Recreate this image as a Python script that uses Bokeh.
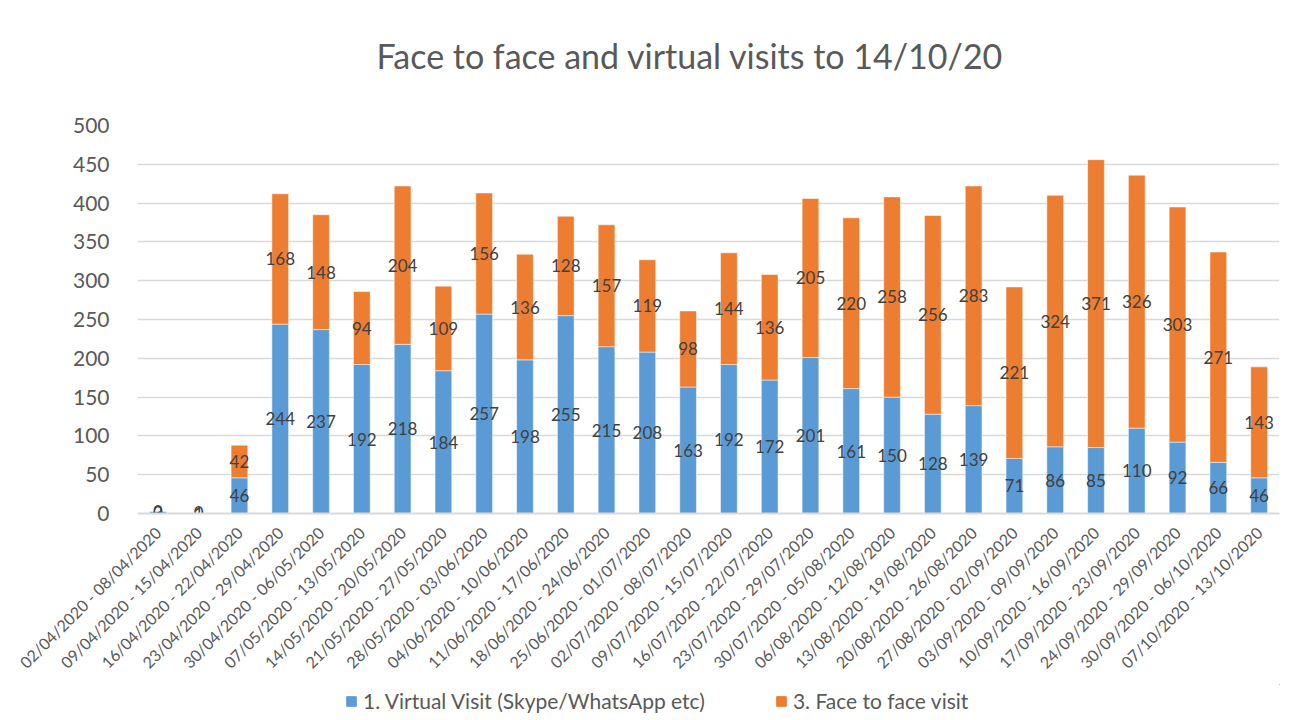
import math
from bokeh.plotting import figure
from bokeh.layouts import column
from bokeh.models import ColumnDataSource, FactorRange, Legend, LegendItem
from bokeh.core.properties import value
from bokeh.embed import file_html
from bokeh.resources import INLINE

weeks = [
    "02/04/2020 - 08/04/2020", "09/04/2020 - 15/04/2020", "16/04/2020 - 22/04/2020",
    "23/04/2020 - 29/04/2020", "30/04/2020 - 06/05/2020", "07/05/2020 - 13/05/2020",
    "14/05/2020 - 20/05/2020", "21/05/2020 - 27/05/2020", "28/05/2020 - 03/06/2020",
    "04/06/2020 - 10/06/2020", "11/06/2020 - 17/06/2020", "18/06/2020 - 24/06/2020",
    "25/06/2020 - 01/07/2020", "02/07/2020 - 08/07/2020", "09/07/2020 - 15/07/2020",
    "16/07/2020 - 22/07/2020", "23/07/2020 - 29/07/2020", "30/07/2020 - 05/08/2020",
    "06/08/2020 - 12/08/2020", "13/08/2020 - 19/08/2020", "20/08/2020 - 26/08/2020",
    "27/08/2020 - 02/09/2020", "03/09/2020 - 09/09/2020", "10/09/2020 - 16/09/2020",
    "17/09/2020 - 23/09/2020", "24/09/2020 - 29/09/2020", "30/09/2020 - 06/10/2020",
    "07/10/2020 - 13/10/2020",
]
virtual = [3, 1, 46, 244, 237, 192, 218, 184, 257, 198, 255, 215, 208, 163,
           192, 172, 201, 161, 150, 128, 139, 71, 86, 85, 110, 92, 66, 46]
face = [0, 0, 42, 168, 148, 94, 204, 109, 156, 136, 128, 157, 119, 98,
        144, 136, 205, 220, 258, 256, 283, 221, 324, 371, 326, 303, 271, 143]

title_text = "Face to face and virtual visits to 14/10/20"
series_names = ["1. Virtual Visit (Skype/WhatsApp etc)", "3. Face to face visit"]
colors = ["#5B9BD5", "#ED7D31"]
FONT = "Lato"
GREY = "#595959"
W = 1282

# ---- title strip (frame is aligned with the chart's frame by the column) ----
tt = figure(width=W, height=90, output_backend="svg", toolbar_location=None,
            x_range=(0, 1), y_range=(0, 90), min_border=0, outline_line_color=None,
            x_axis_location=None, y_axis_location=None)
tt.grid.visible = False
tt.text(x=[0.484], y=[35], text=[title_text], text_align="center", text_baseline="middle",
        text_font=value(FONT), text_font_size="34px", text_color=GREY)

# ---- main chart ----
src = ColumnDataSource(dict(week=weeks, virtual=virtual, face=face))

p = figure(x_range=FactorRange(*weeks), y_range=(0, 500),
           frame_width=1142, frame_height=388, output_backend="svg", toolbar_location=None,
           min_border_left=137, min_border_right=3, min_border_top=35,
           min_border_bottom=171)

renderers = p.vbar_stack(["virtual", "face"], x="week", width=0.41, color=colors,
                         line_color="white", line_width=0.5, source=src)

lab_x = weeks + weeks
lab_y = [v / 2 for v in virtual] + [v + f / 2 for v, f in zip(virtual, face)]
lab_t = [str(v) for v in virtual] + [str(f) for f in face]
p.text(x=lab_x, y=lab_y, text=lab_t, text_align="center", text_baseline="middle",
       text_font=value(FONT), text_font_size="17px", text_color="#404040")

p.xgrid.grid_line_color = None
p.ygrid.grid_line_color = "#D9D9D9"
p.ygrid.grid_line_width = 1.5
p.outline_line_color = None

p.yaxis.ticker = list(range(0, 501, 50))
p.yaxis.axis_line_color = None
p.yaxis.major_tick_line_color = None
p.yaxis.minor_tick_line_color = None
p.yaxis.major_label_text_font = FONT
p.yaxis.major_label_text_font_size = "21px"
p.yaxis.major_label_text_color = GREY
p.yaxis.major_label_standoff = 22

p.xaxis.axis_line_color = "#D9D9D9"
p.xaxis.axis_line_width = 2
p.xaxis.major_tick_line_color = None
p.xaxis.minor_tick_line_color = None
p.xaxis.major_label_orientation = math.pi / 4
p.xaxis.major_label_text_font = FONT
p.xaxis.major_label_text_font_size = "16px"
p.xaxis.major_label_text_color = GREY
p.xaxis.major_label_standoff = 10

# ---- legend strip ----
lg = figure(width=W, height=36, output_backend="svg", toolbar_location=None,
            x_range=(0, 1), y_range=(0, 1), min_border=0, outline_line_color=None,
            x_axis_location=None, y_axis_location=None)
lg.grid.visible = False
# legend keys only: drawn outside the visible range
dummies = [lg.vbar(x=[5], top=[5], bottom=[4], width=0.1, color=c) for c in colors]
legend = Legend(items=[LegendItem(label=series_names[i], renderers=[dummies[i]])
                       for i in range(2)],
                orientation="horizontal", location=(208, 7),
                label_text_font=FONT, label_text_font_size="21px",
                label_text_color=GREY, glyph_width=12, glyph_height=12,
                label_standoff=6, spacing=70, border_line_color=None,
                background_fill_alpha=0, padding=0, margin=0)
lg.add_layout(legend, "center")

open("out.html", "w").write(file_html(column(tt, p, lg, spacing=0), INLINE))
